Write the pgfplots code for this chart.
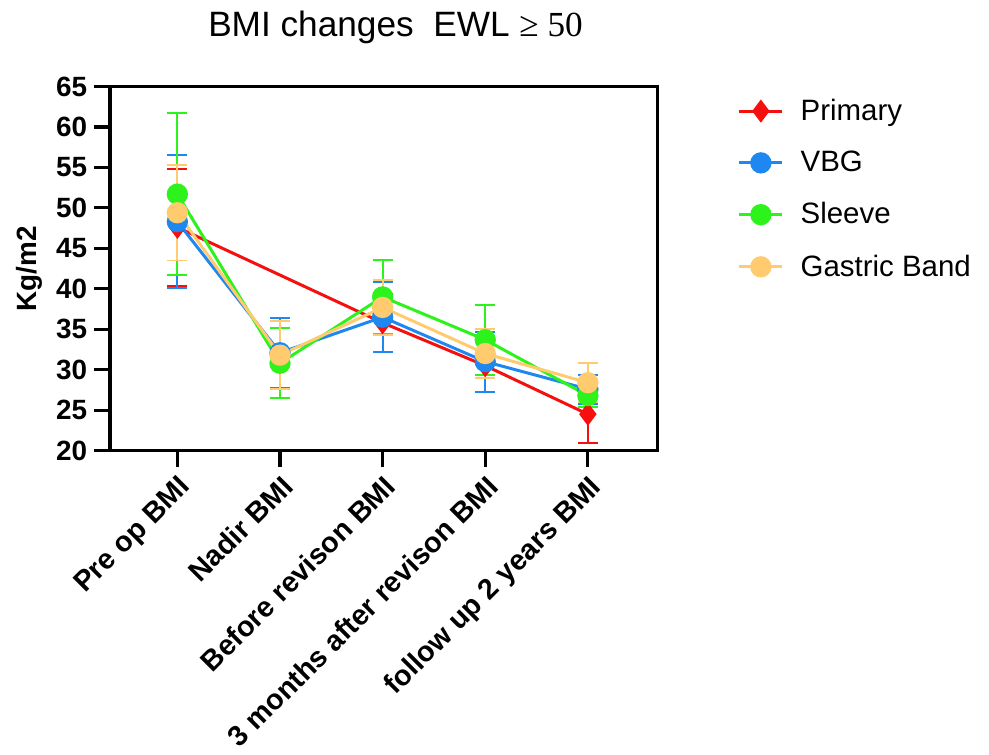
\documentclass[border=0pt]{standalone}
\usepackage{pgfplots}
\pgfplotsset{compat=1.18}
\usepackage{fontspec}
\setmainfont{Liberation Sans}
\newfontfamily\seriffont{Liberation Serif}
\definecolor{cPrim}{HTML}{F50F0F}
\definecolor{cVBG}{HTML}{1E88F0}
\definecolor{cSleeve}{HTML}{2EF21C}
\definecolor{cBand}{HTML}{FFCB6E}

\begin{document}
\begin{tikzpicture}
\path[use as bounding box] (-55.3pt,-152.5pt) rectangle (441.8pt,226.5pt);
\begin{axis}[
    scale only axis,
    width=275pt, height=183pt,
    xmin=-0.656, xmax=4.675,
    ymin=20, ymax=65,
    ytick={20,25,...,65},
    xtick={0,1,2,3,4},
    xticklabels={Pre op BMI, Nadir BMI, Before revison BMI, 3 months after revison BMI, follow up 2 years BMI},
    xticklabel style={font=\bfseries\fontsize{14.4}{16}\selectfont, rotate=45, anchor=north east, inner sep=2.5pt},
    yticklabel style={font=\bfseries\fontsize{14}{15}\selectfont, /pgf/number format/assume math mode=true},
    tick align=outside,
    xtick pos=bottom, ytick pos=left,
    major tick length=8pt,
    tick style={line width=1.6pt, black},
    axis line style={line width=1.6pt},
    ylabel={\bfseries Kg/m2},
    ylabel style={font=\fontsize{14}{16}\selectfont},
    title={BMI changes\ \ EWL {\seriffont ≥ 50}},
    title style={font=\fontsize{17.7}{20}\selectfont, at={(0.5,1)}, anchor=base, yshift=19pt, xshift=6pt},
    legend style={draw=none, at={(1.147,0.978)}, anchor=north west, font=\fontsize{14.8}{17}\selectfont,
        row sep=10pt, inner sep=0pt, cells={anchor=west},
        /tikz/every odd column/.append style={column sep=6.5pt}},
    legend image code/.code={\draw[mark repeat=2,mark phase=2,#1] plot coordinates {(0pt,0pt) (10.75pt,0pt) (21.5pt,0pt)};},
    every axis plot/.append style={line width=1.5pt, mark size=4.6pt,
        error bars/y dir=both, error bars/y explicit,
        error bars/error bar style={line width=1pt},
        error bars/error mark options={rotate=90, mark size=5pt, line width=1pt}},
]
\addplot[cPrim, mark=diamond*] coordinates {
    (0,47.6) +- (0,7.2)
    (2,35.8) +- (0,3.6)
    (3,30.5) +- (0,3.3)
    (4,24.5) +- (0,3.5)
};
\addplot[cVBG, mark=*] coordinates {
    (0,48.3) +- (0,8.2)
    (1,32.1) +- (0,4.3)
    (2,36.5) +- (0,4.3)
    (3,31.0) +- (0,3.7)
    (4,27.6) +- (0,1.8)
};
\addplot[cSleeve, mark=*] coordinates {
    (0,51.7) +- (0,10.0)
    (1,30.8) +- (0,4.3)
    (2,39.0) +- (0,4.6)
    (3,33.7) +- (0,4.3)
    (4,26.8) +- (0,1.4)
};
\addplot[cBand, mark=*] coordinates {
    (0,49.4) +- (0,5.9)
    (1,31.8) +- (0,4.2)
    (2,37.7) +- (0,3.4)
    (3,32.0) +- (0,3.0)
    (4,28.4) +- (0,2.4)
};
\legend{Primary, VBG, Sleeve, Gastric Band}
\end{axis}
\end{tikzpicture}
\end{document}
